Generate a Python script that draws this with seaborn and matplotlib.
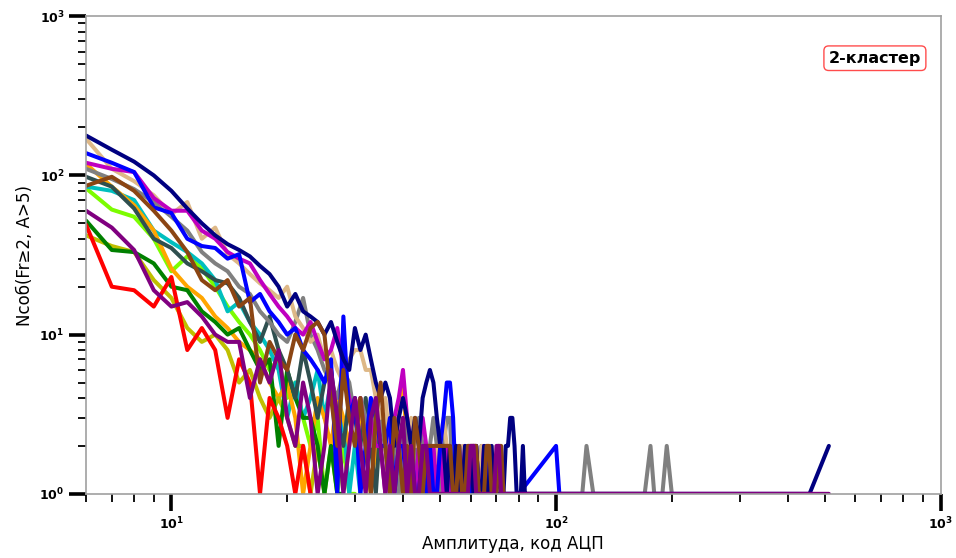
import numpy as np
import pandas as pd
import matplotlib
matplotlib.use("Agg")
import matplotlib.pyplot as plt
import seaborn as sns

# Event counts per amplitude bin (ADC code), bins start at amplitude 6, step 1.
# A zero means an empty bin (not drawn, the line jumps over it).
AMP_START = 6

navy = [178, 145, 122, 100, 80, 62, 50, 42, 37, 34, 31, 27, 24, 20, 15, 18, 14, 13, 12, 10,
        12, 9, 7, 6, 11, 8, 10, 7, 5, 4, 5, 4, 2, 3, 4, 3, 2, 3, 2, 4,
        5, 6, 5, 3, 2, 2, 1, 2, 1, 2, 1, 1, 2, 1, 2, 1, 2, 1, 1, 2,
        1, 1, 2, 1, 1, 2, 1, 1, 2, 2, 3, 3, 2, 1, 1, 1, 2, 1, 1]
navy_tail = [(456, 1), (512, 2)]

tan = [170, 110, 92, 75, 57, 68, 40, 47, 32, 28, 24, 21, 19, 17, 20, 13, 11, 9, 10, 7,
       8, 6, 5, 7, 8, 8, 6, 6, 4, 3, 4, 2, 3, 2, 2, 1, 3, 2, 2, 2,
       1, 2, 1, 2, 2, 3, 2, 1, 2, 1, 1, 2, 1, 2, 1, 2, 1, 1, 2, 1,
       1, 1, 2, 1, 1]

blue = [138, 120, 105, 63, 58, 40, 36, 35, 30, 32, 16, 18, 14, 12, 10, 11, 8, 7, 6, 5,
        7, 1, 13, 3, 4, 1, 2, 4, 3, 2, 2, 3, 1, 2, 2, 1, 2, 1, 1, 2,
        1, 2, 1, 1, 2, 3, 5, 5, 3, 1, 2, 1, 1, 2, 1, 1, 2, 1, 1, 1,
        2, 1, 1, 1, 1]
blue_tail = [(80, 1), (100, 2), (102, 1)]

magenta = [120, 110, 105, 72, 60, 60, 45, 40, 33, 30, 28, 22, 18, 15, 13, 11, 10, 12, 9, 7,
           8, 11, 6, 4, 3, 4, 2, 3, 2, 2, 1, 2, 3, 4, 6, 3, 2, 1, 2, 3,
           2, 1, 2, 1, 2, 1, 2, 1, 1, 2, 1, 1, 2, 1, 1, 2, 2, 1, 1, 2,
           1, 1]

orange = [118, 85, 65, 45, 26, 20, 17, 13, 11, 9, 8, 7, 5, 4, 5, 3, 1, 2, 4, 3,
          2, 4, 3, 2, 4, 3, 2, 1, 2, 3, 2, 1, 2, 3, 5, 2, 1, 2, 1, 1,
          2, 1, 1, 2, 1, 1, 2, 1, 1, 1]

gray = [110, 95, 82, 68, 55, 45, 33, 28, 25, 20, 18, 14, 12, 10, 9, 12, 17, 10, 8, 6,
        5, 4, 6, 5, 3, 4, 3, 2, 4, 3, 2, 1, 2, 1, 3, 2, 1, 2, 3, 2,
        1, 2, 3, 2, 1, 2, 3, 3, 1, 1, 2, 1, 2, 1, 1, 1]
gray_tail = [(117, 1), (120, 2), (125, 1), (170, 1), (176, 2), (180, 1),
             (189, 1), (194, 2), (200, 1)]

slate = [98, 85, 62, 40, 35, 28, 25, 22, 21, 17, 12, 9, 13, 8, 6, 4, 8, 5, 3, 5,
         6, 3, 2, 4, 3, 2, 4, 2, 1, 3, 2, 1, 2, 2, 1, 2, 1, 2, 1, 2,
         2, 1, 1, 2, 1, 2, 1, 2, 1, 2, 1, 1, 2, 1, 1, 2, 1, 1, 2, 1]

brown = [86, 98, 80, 60, 45, 33, 22, 19, 22, 15, 17, 5, 9, 7, 6, 10, 8, 11, 12, 10,
         4, 2, 6, 3, 2, 4, 2, 1, 3, 5, 2, 1, 3, 2, 1, 2, 1, 3, 2, 1,
         2, 2, 2, 2, 2, 2, 2, 2, 1, 1, 2, 1, 1, 2, 2, 2, 2, 1, 1, 1,
         2, 2, 1, 1, 1, 2, 2, 1, 1]

lawngreen = [83, 61, 55, 40, 25, 31, 26, 20, 15, 12, 10, 8, 6, 7, 4, 5, 3, 2, 3, 1,
             2, 1, 2, 1, 1]

cyan = [85, 80, 70, 45, 38, 33, 28, 22, 14, 16, 12, 10, 8, 6, 3, 5, 3, 4, 6, 3,
        5, 2, 3, 1, 2, 1]

green = [52, 34, 33, 28, 20, 19, 14, 12, 10, 11, 8, 6, 7, 2, 6, 4, 3, 3, 2, 1,
         2, 1, 1]

red = [49, 20, 19, 15, 23, 8, 11, 8, 3, 7, 5, 1, 4, 3, 2, 1, 2, 1]

olive = [42, 36, 33, 22, 17, 11, 9, 10, 8, 5, 6, 4, 3, 4, 3, 2, 2, 1, 2, 1]

purple = [60, 47, 34, 19, 15, 16, 13, 10, 9, 9, 4, 7, 5, 8, 3, 2, 5, 3, 1, 2,
          6, 3, 1, 2, 4, 2, 1, 3, 4, 2, 1, 2, 1, 2, 3, 1, 2, 1, 1, 2,
          2, 1, 1, 1, 1, 1, 1, 1, 1, 1, 1, 1, 1, 1, 2, 2, 1, 1, 1, 1,
          1, 1, 1, 1, 2, 2, 1, 1]
purple_tail = [(512, 1)]

# draw order (last on top) and colours
ORDER = ["lawngreen", "c", "orange", "y", "g", "r", "darkslategray", "gray",
         "burlywood", "m", "blue", "navy", "saddlebrown", "purple"]
VALUES = {
    "lawngreen": (lawngreen, []), "c": (cyan, []), "orange": (orange, []),
    "y": (olive, []), "g": (green, []), "r": (red, []),
    "darkslategray": (slate, []), "gray": (gray, gray_tail),
    "burlywood": (tan, []), "m": (magenta, []), "blue": (blue, blue_tail),
    "navy": (navy, navy_tail), "saddlebrown": (brown, []),
    "purple": (purple, purple_tail),
}


def to_frame(name, values, tail):
    amps = np.arange(AMP_START, AMP_START + len(values))
    rows = [(a, v) for a, v in zip(amps, values) if v > 0]
    rows += list(tail)
    d = pd.DataFrame(rows, columns=["amp", "n"])
    d["series"] = name
    return d


df = pd.concat([to_frame(k, *VALUES[k]) for k in ORDER], ignore_index=True)

sns.set_style("white")
plt.rcParams.update({"text.color": "black", "axes.labelcolor": "black",
                     "xtick.color": "black", "ytick.color": "black"})

fig = plt.figure(figsize=(9.56, 5.58), dpi=100)
ax = fig.add_axes([0.090, 0.115, 0.894, 0.856])

sns.lineplot(data=df, x="amp", y="n", hue="series", hue_order=ORDER,
             palette={k: k for k in ORDER}, estimator=None, sort=True,
             linewidth=2.9, legend=False, ax=ax)

ax.set_xscale("log")
ax.set_yscale("log")
ax.set_xlim(6, 1000)
ax.set_ylim(1, 1000)

for s in ax.spines.values():
    s.set_color("#a0a0a0")
    s.set_linewidth(1.2)

ax.tick_params(which="major", direction="out", length=12, width=2.6, colors="black",
               labelsize=9, left=True, bottom=True)
ax.tick_params(which="minor", direction="out", length=6, width=1.3, colors="black",
               left=True, bottom=True)
for lbl in ax.get_xticklabels() + ax.get_yticklabels():
    lbl.set_fontweight("bold")

ax.set_xlabel("Амплитуда, код АЦП", fontsize=12, labelpad=2, color="black")
ax.set_ylabel("Nсоб(Fr≥2, A>5)", fontsize=12, color="black")

ax.text(0.923, 0.912, "2-кластер", transform=ax.transAxes, ha="center", va="center",
        fontsize=11.5, fontweight="bold", color="black",
        bbox=dict(boxstyle="round,pad=0.3", facecolor="white", edgecolor="red", alpha=0.7))

fig.savefig("out.png", dpi=100)
